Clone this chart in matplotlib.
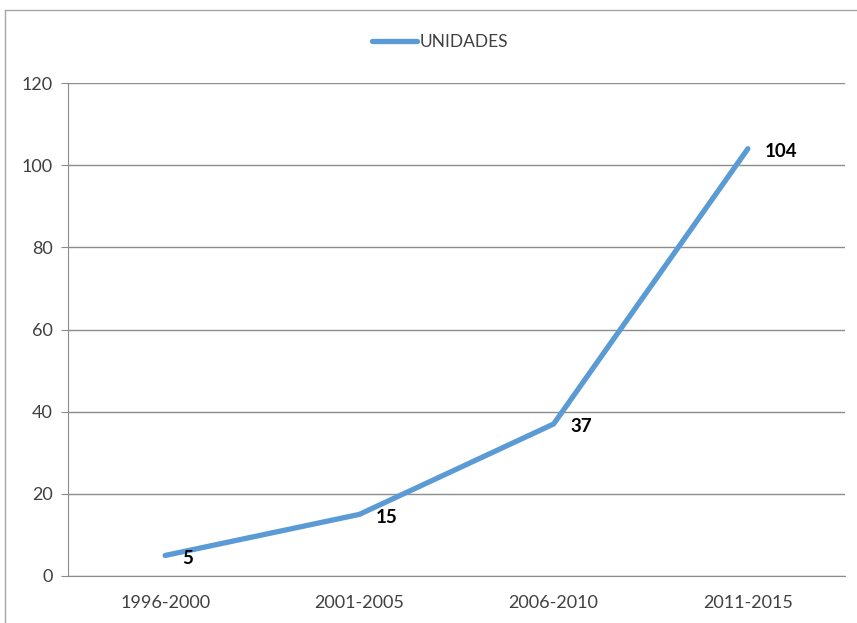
import matplotlib
matplotlib.use("Agg")
import matplotlib.pyplot as plt
from matplotlib.lines import Line2D

plt.rcParams['font.family'] = ['Lato', 'DejaVu Sans']

periods = ["1996-2000", "2001-2005", "2006-2010", "2011-2015"]
unidades = [5, 15, 37, 104]
yticks = [0, 20, 40, 60, 80, 100, 120]

line_color = "#5B9BD5"
grid_color = "#8C8C8C"
text_color = "#404040"

fig = plt.figure(figsize=(8.57, 6.23), dpi=100)
ax = fig.add_axes([68/857, 47/623, (845-68)/857, (576-83)/623])

x = list(range(len(periods)))
ax.plot(x, unidades, color=line_color, lw=3.8, solid_capstyle="round", zorder=3)

for xi, v in zip(x, unidades):
    ax.annotate(str(v), (xi, v), xytext=(12, -2), textcoords="offset points",
                ha="left", va="center", fontsize=13.5, fontweight="bold",
                color="black", zorder=4)

ax.set_xlim(-0.5, len(periods) - 0.5)
ax.set_ylim(0, 120)
ax.set_yticks(yticks)
ax.set_xticks(x)
ax.set_xticklabels(periods)
ax.yaxis.grid(True, color=grid_color, lw=1)
ax.set_axisbelow(True)

for s in ["top", "right"]:
    ax.spines[s].set_visible(False)
ax.spines["left"].set_color(grid_color)
ax.spines["bottom"].set_color(grid_color)
ax.tick_params(axis="y", length=5, color=grid_color, labelsize=13,
               labelcolor=text_color, pad=6)
ax.tick_params(axis="x", length=0, labelsize=13, labelcolor=text_color, pad=14)

# legend
handle = Line2D([], [], color=line_color, lw=3.8, solid_capstyle="round")
fig.legend([handle], ["UNIDADES"], loc="center", bbox_to_anchor=(440/857, 1 - 42/623),
           frameon=False, fontsize=12.5, handlelength=2.6, handletextpad=0.1,
           labelcolor=text_color)

# outer chart border
fig.add_artist(Line2D([5/857, 1], [1 - 10/623, 1 - 10/623], color="#A6A6A6", lw=1,
                      transform=fig.transFigure))
fig.add_artist(Line2D([5/857, 5/857], [0, 1 - 10/623], color="#A6A6A6", lw=1,
                      transform=fig.transFigure))

fig.savefig("out.png", dpi=100)
